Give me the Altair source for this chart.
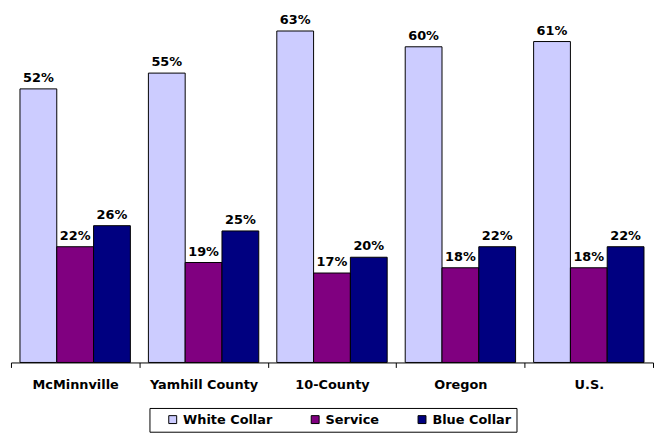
import altair as alt
import pandas as pd

regions = ["McMinnville", "Yamhill County", "10-County", "Oregon", "U.S."]
categories = ["White Collar", "Service", "Blue Collar"]
white_collar = [52, 55, 63, 60, 61]
service = [22, 19, 17, 18, 18]
blue_collar = [26, 25, 20, 22, 22]
colors = ["#CCCCFF", "#800080", "#000080"]

rows = []
for i, r in enumerate(regions):
    for cat, vals in zip(categories, [white_collar, service, blue_collar]):
        rows.append({"region": r, "category": cat, "value": vals[i]})
df = pd.DataFrame(rows)

FONT = "DejaVu Sans"

base = alt.Chart(df).transform_calculate(
    label="datum.value + '%'"
).encode(
    x=alt.X(
        "region:N",
        sort=regions,
        scale=alt.Scale(paddingInner=0, paddingOuter=0),
        axis=alt.Axis(
            title=None, labelAngle=0, tickBand="extent",
            domainColor="black", tickColor="black", tickSize=5,
            labelFont=FONT, labelFontWeight="bold", labelFontSize=13,
            labelColor="black", labelPadding=11,
        ),
    ),
    xOffset=alt.XOffset(
        "category:N", sort=categories,
        scale=alt.Scale(paddingInner=0, paddingOuter=0.245),
    ),
    y=alt.Y("value:Q", scale=alt.Scale(domain=[0, 66]), axis=None),
)

bars = base.mark_bar(stroke="black", strokeWidth=1).encode(
    color=alt.Color(
        "category:N",
        sort=categories,
        scale=alt.Scale(domain=categories, range=colors),
        legend=alt.Legend(
            title=None, orient="none", legendX=140, legendY=397,
            direction="horizontal", symbolType="square", symbolSize=64,
            symbolStrokeColor="black", symbolStrokeWidth=1,
            strokeColor="black", fillColor="white", padding=5,
            labelFont=FONT, labelFontWeight="bold", labelFontSize=13,
            labelColor="black", columnPadding=24, labelOffset=4,
            symbolOffset=12,
        ),
    )
)

text = base.mark_text(
    dy=-7, baseline="alphabetic", font=FONT, fontWeight="bold",
    fontSize=13, color="black",
).encode(text="label:N")

chart = (bars + text).properties(
    width=649, height=351,
    autosize=alt.AutoSizeParams(type="none"),
    padding={"left": 3, "top": 5, "right": 1, "bottom": 70},
).configure_view(stroke=None)

chart.save("out.html", embed_options={"renderer": "svg", "actions": False})
